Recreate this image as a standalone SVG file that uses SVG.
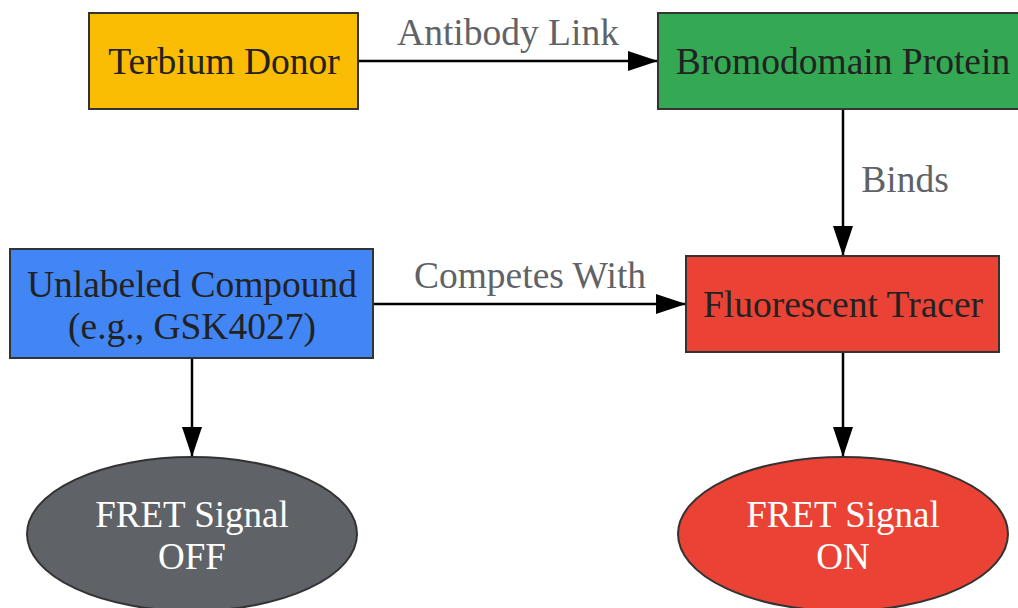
<svg xmlns="http://www.w3.org/2000/svg" width="1018" height="608" viewBox="0 0 1018 608">
<defs>
<marker id="ah" markerWidth="30" markerHeight="20" refX="30" refY="10" orient="auto" markerUnits="userSpaceOnUse">
<path d="M0,0 L30,10 L0,20 Z" fill="#000"/>
</marker>
<style>
.n{stroke:#333;stroke-width:2}
.t{font-family:"Liberation Serif",serif;font-size:37.5px;fill:#222;text-anchor:middle}
.w{font-family:"Liberation Serif",serif;font-size:37px;fill:#fff;text-anchor:middle}
.l{font-family:"Liberation Serif",serif;font-size:37.5px;fill:#5f6368;text-anchor:middle}
.e{stroke:#000;stroke-width:2.5;fill:none}
</style>
</defs>
<rect width="1018" height="608" fill="#fff"/>
<g id="connectors">
<line class="e" x1="358" y1="61" x2="658" y2="61" marker-end="url(#ah)"/>
<text class="l" x="508" y="45">Antibody Link</text>
<line class="e" x1="843" y1="109" x2="843" y2="256" marker-end="url(#ah)"/>
<text class="l" x="905" y="192">Binds</text>
<line class="e" x1="373" y1="304" x2="686" y2="304" marker-end="url(#ah)"/>
<text class="l" x="530" y="288">Competes With</text>
<line class="e" x1="192" y1="358" x2="192" y2="457" marker-end="url(#ah)"/>
<line class="e" x1="843" y1="352" x2="843" y2="457" marker-end="url(#ah)"/>
</g>
<g id="terbium">
<rect class="n" x="89" y="13" width="269" height="96" fill="#FBBC04"/>
<text class="t" x="224" y="74">Terbium Donor</text>
</g>
<g id="bromodomain">
<rect class="n" x="658" y="13" width="362" height="96" fill="#34A853"/>
<text class="t" x="843" y="74">Bromodomain Protein</text>
</g>
<g id="unlabeled">
<rect class="n" x="10" y="249" width="363" height="109" fill="#4285F4"/>
<text class="t" x="192" y="297">Unlabeled Compound</text>
<text class="t" x="192" y="339">(e.g., GSK4027)</text>
</g>
<g id="tracer">
<rect class="n" x="686" y="256" width="313" height="96" fill="#EA4335"/>
<text class="t" x="843" y="317">Fluorescent Tracer</text>
</g>
<g id="fret-off">
<ellipse class="n" cx="192" cy="534" rx="165" ry="77" fill="#5F6368"/>
<text class="w" x="192" y="527">FRET Signal</text>
<text class="w" x="192" y="569">OFF</text>
</g>
<g id="fret-on">
<ellipse class="n" cx="843" cy="534" rx="165" ry="77" fill="#EA4335"/>
<text class="w" x="843" y="527">FRET Signal</text>
<text class="w" x="843" y="569">ON</text>
</g>
</svg>
